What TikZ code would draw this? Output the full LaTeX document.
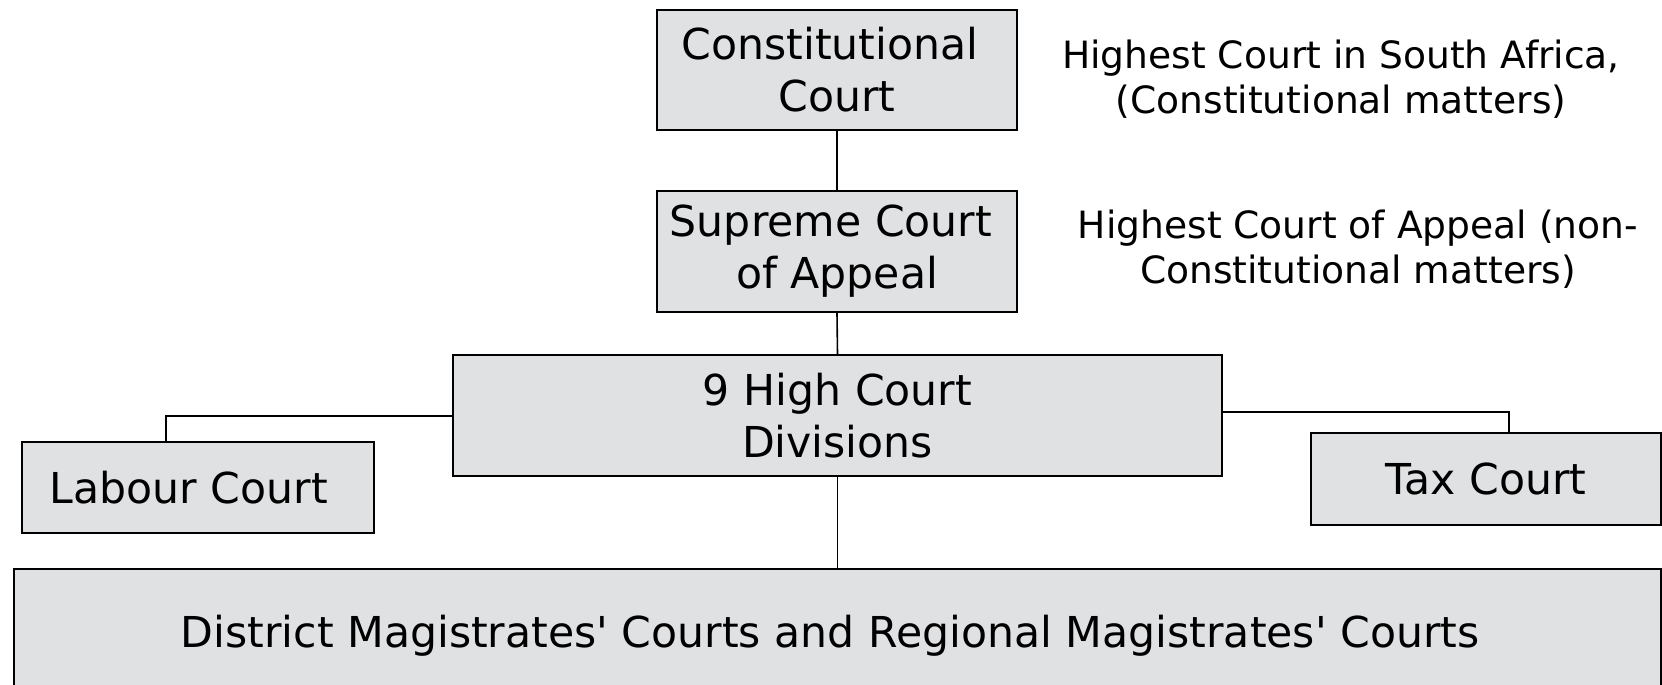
\documentclass[tikz,border=0pt]{standalone}
\usepackage{fontspec}
\setmainfont{DejaVu Sans}[Ligatures=TeXOff]
\definecolor{boxgray}{RGB}{224,225,227}
\begin{document}
\begin{tikzpicture}[x=0.5pt,y=-0.5pt,
  court/.style={draw=black,line width=0.9pt,fill=boxgray,inner sep=0pt,align=center,
    font=\fontsize{21.3}{26}\selectfont},
  note/.style={inner sep=0pt,align=center,font=\fontsize{18.8}{22.8}\selectfont},
  link/.style={draw=black,line width=0.8pt}]
\useasboundingbox (0,0) rectangle (1662,685);
\node[court,minimum width=180pt,minimum height=60pt] (const) at (837,70) {Constitutional\hspace*{7pt}\\Court};
\node[court,minimum width=180pt,minimum height=60.5pt] (supreme) at (837,251.5) {Supreme Court\hspace*{6pt}\\of Appeal};
\node[court,minimum width=384.5pt,minimum height=60.5pt] (high) at (837.5,415.5) {9 High Court\\Divisions};
\node[court,minimum width=176pt,minimum height=45.5pt] (labour) at (198,487.5) {\hspace*{-9pt}Labour Court};
\node[court,minimum width=175pt,minimum height=46pt] (tax) at (1486,479) {Tax Court};
\node[court,minimum width=823.5pt,minimum height=70pt] (district) at (837.5,639) {\raisebox{8pt}{District Magistrates' Courts and Regional Magistrates' Courts\hspace*{7.4pt}}};
\node[note] (n1) at (1341,79) {Highest Court in South Africa,\\(Constitutional matters)};
\node[note] (n2) at (1358,249) {Highest Court of Appeal (non-\\Constitutional matters)};
\coordinate (lc) at (166,416);
\coordinate (tc) at (1509,412);
\draw[link] (const.south) -- (supreme.north);
\draw[link] (supreme.south) -- (high.north);
\draw[link] (high.west |- lc) -- (lc) -- (lc |- labour.north);
\draw[link] (high.east |- tc) -- (tc) -- (tc |- tax.north);
\draw[link] (high.south) -- (district.north);
\end{tikzpicture}
\end{document}
